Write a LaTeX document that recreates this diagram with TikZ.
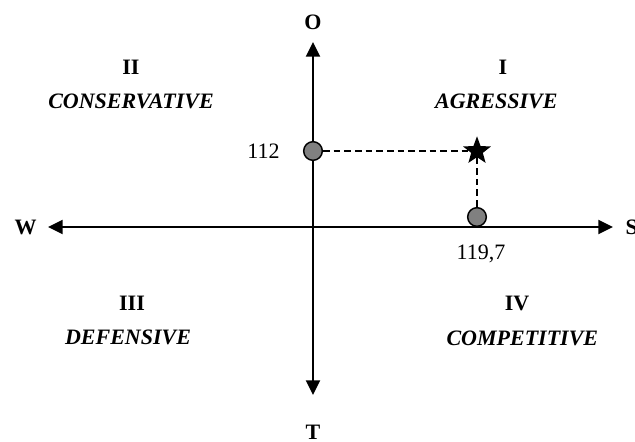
\documentclass[tikz,border=0pt]{standalone}
\usepackage{fontspec}
\setmainfont{Liberation Serif}
\usetikzlibrary{arrows.meta,shapes.geometric,positioning}
\tikzset{
  eje/.style={{Triangle[length=11pt,width=10.5pt]}-{Triangle[length=11pt,width=10.5pt]},line width=1.5pt},
  polo/.style={font=\fontsize{16.5}{18}\selectfont\bfseries},
  cuadrante/.style={font=\fontsize{16.5}{18}\selectfont\bfseries},
  estrategia/.style={font=\fontsize{16.5}{18}\selectfont\bfseries\itshape},
  valor/.style={font=\fontsize{16.5}{18}\selectfont},
  punto/.style={circle,fill=gray,draw=black,line width=1.1pt,minimum size=14pt,inner sep=0pt},
  estrella/.style={star,star points=5,star point ratio=2.4,fill=black,inner sep=0pt,minimum size=22pt},
  guia/.style={dash pattern=on 5pt off 3pt,line width=1.1pt}
}
\begin{document}
\begin{tikzpicture}[x=0.75pt,y=0.75pt]
\useasboundingbox (-313,-215) rectangle (322,227);
% ejes
\coordinate (ejeW) at (-265,0);
\coordinate (ejeE) at (300,0);
\coordinate (ejeN) at (0,185);
\coordinate (ejeS) at (0,-168);
\draw[eje] (ejeW) -- (ejeE);
\draw[eje] (ejeS) -- (ejeN);
\node[polo] (O) at (0,205) {O};
\node[polo] (T) at (0,-205) {T};
\node[polo,left=5pt of ejeW] (W) {W};
\node[polo,right=6pt of ejeE] (S) {S};
% cuadrantes
\node[cuadrante] (q2) at (-182,160) {II};
\node[estrategia,below=8pt of q2] (conservative) {CONSERVATIVE};
\node[cuadrante] (q1) at (190,160) {I};
\node[estrategia,below=8pt of q1,xshift=-5pt] (agresive) {AGRESSIVE};
\node[cuadrante] (q3) at (-181,-76) {III};
\node[estrategia,below=8pt of q3,xshift=-3pt] (defensive) {DEFENSIVE};
\node[cuadrante] (q4) at (204,-76) {IV};
\node[estrategia,below=8pt of q4,xshift=4pt] (competitive) {COMPETITIVE};
% posicion
\node[punto] (pO) at (0,76) {};
\node[punto] (pS) at (164,10) {};
\node[estrella] (pos) at (164,76) {};
\draw[guia] (pO) -- (pos);
\draw[guia] (pos) -- (pS);
\node[valor,left=14pt of pO] (v112) {112};
\node[valor,below=10pt of pS,xshift=3pt] (v1197) {119,7};
\end{tikzpicture}
\end{document}
